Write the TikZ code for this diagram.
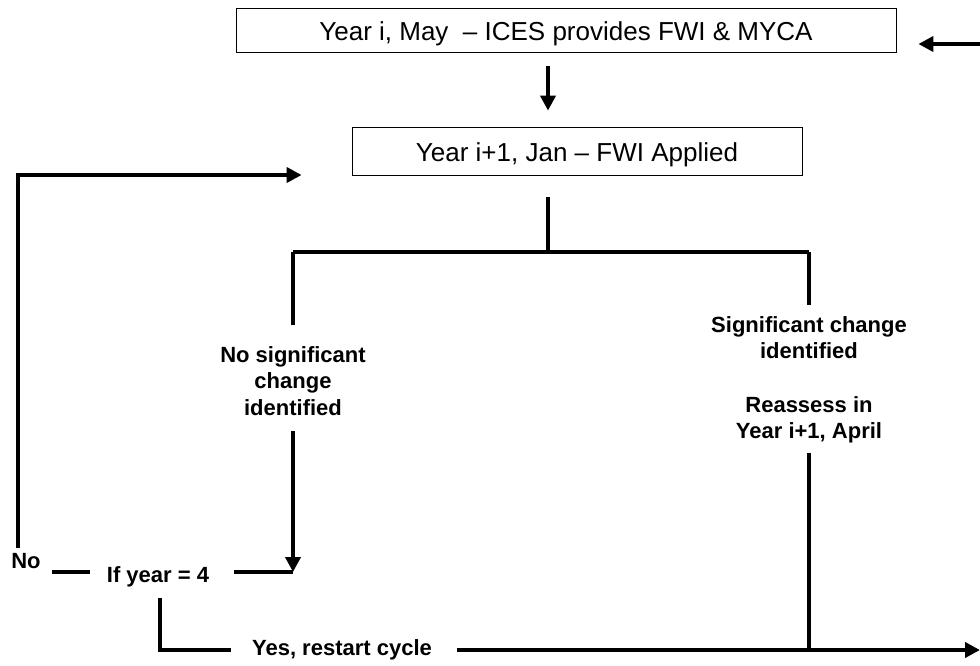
\documentclass[tikz,border=0pt]{standalone}
\usepackage{fontspec}
\setmainfont{Liberation Sans}
\usetikzlibrary{arrows.meta}
\tikzset{
  stagebox/.style={draw, line width=0.8pt, inner sep=0pt, text height=25pt, text depth=5pt, font=\fontsize{26}{30}\selectfont},
  branch/.style={align=center, inner sep=1pt, font=\bfseries\fontsize{22}{26.5}\selectfont},
  flow/.style={line width=4pt},
  flowarrow/.style={line width=4pt, -{Triangle[length=15pt,width=15pt]}},
}

\begin{document}
\begin{tikzpicture}[x=1pt, y=-1pt]
            \useasboundingbox (0,0) rectangle (980,665);

            \node[stagebox, minimum width=660pt, minimum height=44pt] at (566,30)  (may) {Year i, May\ \ -- ICES provides FWI \& MYCA};
            \node[stagebox, minimum width=450pt, minimum height=48pt] at (577,151) (jan) {Year i+1, Jan -- FWI Applied};
            \node[branch] at (293,381) (nochange) {No significant\\change\\identified};
            \node[branch] at (809,380) (change)   {Significant change\\identified\\[27pt]Reassess in\\Year i+1, April};
            \node[branch] at (26,561)  (no)       {No};
            \node[branch] at (158,577) (ifyear)   {If year = 4};
            \node[branch] at (342,650) (yes)      {Yes, restart cycle};

            \coordinate (feed)    at (980,44);
            \coordinate (split)   at (548,252);
            \coordinate (splitL)  at (293,252);
            \coordinate (splitR)  at (809,252);
            \coordinate (merge)   at (293,572);
            \coordinate (loop)    at (18,175);
            \coordinate (restart) at (160,650);
            \coordinate (join)    at (809,650);
            \coordinate (out)     at (980,650);

            \draw [flowarrow, shorten >=22pt] (feed) -- (may.east |- feed);
            \draw [flowarrow, shorten <=14pt, shorten >=16pt] (may.south -| split) -- (jan.north -| split);
            \draw [flow, shorten <=22pt] (jan.south -| split) -- (split);
            \draw [flow] (splitL) -- (splitR);
            \draw [flow, shorten >=20pt] (splitL) -- (nochange);
            \draw [flow, shorten >=10pt] (splitR) -- (change);
            \draw [flowarrow, shorten <=14pt] (nochange) -- (merge);
            \draw [flow, shorten <=24pt] (ifyear.east |- merge) -- (merge);
            \draw [flow] (52,572) -- (90,572);
            \draw [flowarrow, shorten <=4pt, shorten >=50pt] (no.north -| loop) -- (loop) -- (jan.west |- loop);
            \draw [flow, shorten <=10pt, shorten >=20pt] (ifyear.south -| restart) -- (restart) -- (yes);
            \draw [flowarrow, shorten <=24pt] (yes) -- (out);
            \draw [flow, shorten <=8pt] (change) -- (join);
\end{tikzpicture}
\end{document}
